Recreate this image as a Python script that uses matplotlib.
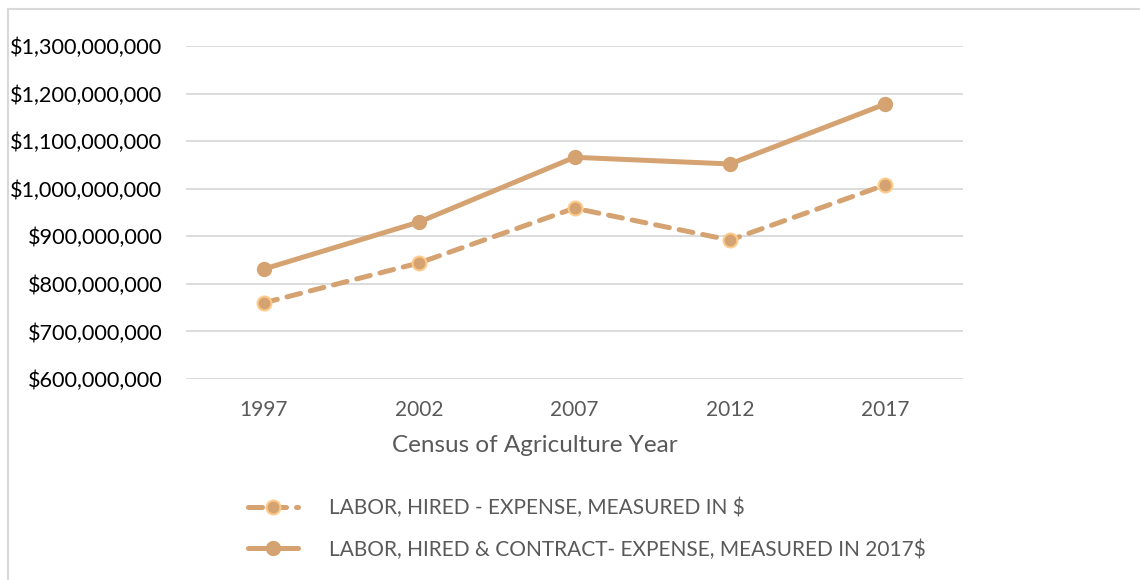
import matplotlib
matplotlib.use('Agg')

import matplotlib.pyplot as plt
from matplotlib.lines import Line2D
from matplotlib.ticker import FuncFormatter

plt.rcParams['font.family'] = ['Lato', 'DejaVu Sans']

# ─── 数据 ───
years = ['1997', '2002', '2007', '2012', '2017']
hired_nominal = [760e6, 844e6, 959e6, 892e6, 1008e6]
hired_contract_2017 = [831e6, 930e6, 1066e6, 1052e6, 1178e6]
label_nominal = 'LABOR, HIRED - EXPENSE, MEASURED IN $'
label_real = 'LABOR, HIRED & CONTRACT- EXPENSE, MEASURED IN 2017$'
y_ticks = [600e6, 700e6, 800e6, 900e6, 1000e6, 1100e6, 1200e6, 1300e6]

LINE_COLOR = '#D5A271'
EDGE_LIGHT = '#FCCB8A'
GRID_COLOR = '#D9D9D9'
TEXT_GRAY = '#595959'

fig = plt.figure(figsize=(11.4, 5.8), dpi=100)
ax = fig.add_axes([0.1632, 0.3466, 0.8447 - 0.1632, 0.9207 - 0.3466])

x = list(range(len(years)))

ax.plot(x, hired_nominal, color=LINE_COLOR, lw=3.6, linestyle=(0, (2.8, 2.0)),
        dash_capstyle='round', marker='o', markersize=10,
        markerfacecolor=LINE_COLOR, markeredgecolor=EDGE_LIGHT,
        markeredgewidth=1.5, label=label_nominal, zorder=3)
ax.plot(x, hired_contract_2017, color=LINE_COLOR, lw=3.6,
        solid_capstyle='round', marker='o', markersize=10,
        markerfacecolor=LINE_COLOR, markeredgecolor=LINE_COLOR,
        label=label_real, zorder=4)

ax.set_xlim(-0.5, len(years) - 0.5)
ax.set_ylim(600e6, 1300e6)
ax.set_yticks(y_ticks)
ax.yaxis.set_major_formatter(FuncFormatter(lambda v, p: f'${v:,.0f}'))
ax.set_xticks(x)
ax.set_xticklabels(years)

ax.grid(axis='y', color=GRID_COLOR, lw=1.3)
ax.set_axisbelow(True)
for s in ax.spines.values():
    s.set_visible(False)
ax.tick_params(axis='both', length=0)
ax.tick_params(axis='y', labelsize=15.6, labelcolor='#000000', pad=17)
ax.tick_params(axis='x', labelsize=15, labelcolor=TEXT_GRAY, pad=15)
ax.set_xlabel('Census of Agriculture Year', fontsize=17.5, color=TEXT_GRAY)
# Excel 轴标题略偏左
ax.xaxis.set_label_coords((535 - 186) / 777, -0.168)

# 图例: 左下，两行
leg = fig.legend(loc='upper left', bbox_to_anchor=(248 / 1140, 1 - 498 / 580),
                 frameon=False, fontsize=15, handlelength=2.4, borderpad=0,
                 borderaxespad=0, handletextpad=1.5, labelspacing=1.0)
for t in leg.get_texts():
    t.set_color(TEXT_GRAY)

# 外框线 (左、上)
fig.add_artist(Line2D([8 / 1140, 8 / 1140], [0, 1 - 9 / 580],
                      transform=fig.transFigure, color=GRID_COLOR, lw=1.5))
fig.add_artist(Line2D([8 / 1140, 1], [1 - 9 / 580, 1 - 9 / 580],
                      transform=fig.transFigure, color=GRID_COLOR, lw=1.5))

fig.savefig('out.png', dpi=100, facecolor='white')
